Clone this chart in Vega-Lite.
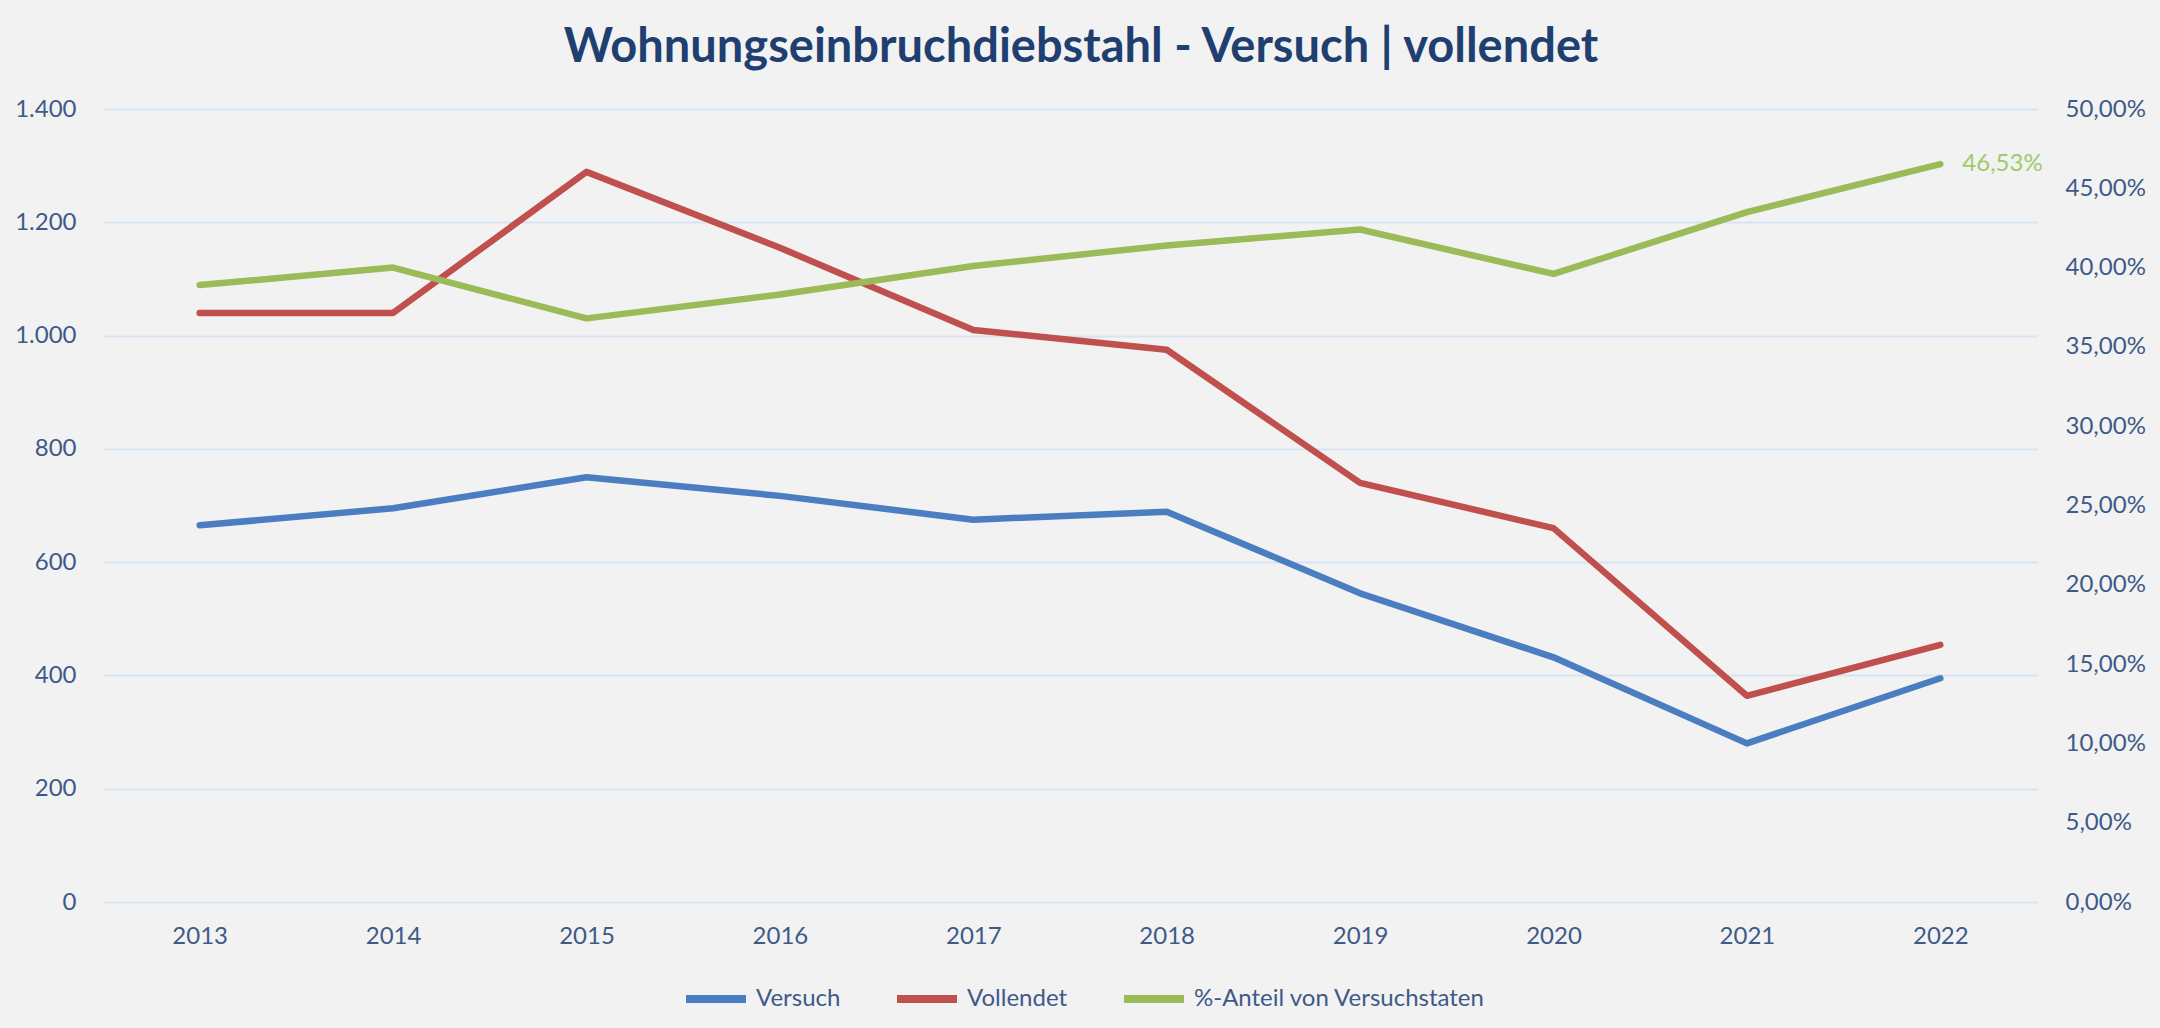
{
  "$schema": "https://vega.github.io/schema/vega-lite/v6.json",
  "autosize": "none",
  "width": 1934,
  "height": 793,
  "padding": {"left": 103, "top": 109, "right": 123, "bottom": 126},
  "background": "#F2F2F2",
  "config": {
    "locale": {"number": {"decimal": ",", "thousands": ".", "grouping": [3], "currency": ["", " €"]}},
    "font": "Lato",
    "view": {"stroke": null},
    "axis": {"labelFont": "Lato", "labelColor": "#3E5A88", "labelFontSize": 24, "domain": false, "ticks": false, "title": null}
  },
  "title": {
    "text": "Wohnungseinbruchdiebstahl - Versuch | vollendet",
    "font": "Lato",
    "fontSize": 47,
    "fontWeight": "bold",
    "color": "#1F3F70",
    "anchor": "middle",
    "offset": 25,
    "dx": 11
  },
  "data": {
    "values": [
      {"year": "2013", "Versuch": 665, "Vollendet": 1040, "pct": 0.389},
      {"year": "2014", "Versuch": 695, "Vollendet": 1040, "pct": 0.400},
      {"year": "2015", "Versuch": 750, "Vollendet": 1289, "pct": 0.368},
      {"year": "2016", "Versuch": 717, "Vollendet": 1155, "pct": 0.383},
      {"year": "2017", "Versuch": 675, "Vollendet": 1010, "pct": 0.401},
      {"year": "2018", "Versuch": 689, "Vollendet": 975, "pct": 0.414},
      {"year": "2019", "Versuch": 545, "Vollendet": 740, "pct": 0.424},
      {"year": "2020", "Versuch": 432, "Vollendet": 660, "pct": 0.396},
      {"year": "2021", "Versuch": 280, "Vollendet": 364, "pct": 0.435},
      {"year": "2022", "Versuch": 395, "Vollendet": 454, "pct": 0.4653}
    ]
  },
  "encoding": {
    "x": {
      "field": "year",
      "type": "ordinal",
      "scale": {"type": "point", "padding": 0.5},
      "axis": {"labelAngle": 0, "labelPadding": 22, "grid": false}
    }
  },
  "layer": [
    {
      "transform": [{"fold": ["Versuch", "Vollendet"], "as": ["serie", "wert"]}],
      "mark": {"type": "line", "strokeWidth": 6.5, "strokeCap": "round", "strokeJoin": "round"},
      "encoding": {
        "y": {
          "field": "wert",
          "type": "quantitative",
          "scale": {"domain": [0, 1400], "nice": false},
          "axis": {
            "orient": "left",
            "values": [0, 200, 400, 600, 800, 1000, 1200, 1400],
            "format": ",d",
            "grid": true,
            "gridColor": "#D5E3F3",
            "gridWidth": 2,
            "labelPadding": 27
          }
        },
        "color": {
          "field": "serie",
          "type": "nominal",
          "scale": {
            "domain": ["Versuch", "Vollendet", "%-Anteil von Versuchstaten"],
            "range": ["#4A7EC0", "#C0504D", "#9BBB59"]
          },
          "legend": {
            "title": null,
            "orient": "none",
            "direction": "horizontal",
            "legendX": 579,
            "legendY": 856,
            "symbolType": "stroke",
            "symbolSize": 3600,
            "symbolStrokeWidth": 8,
            "labelFont": "Lato",
            "labelFontSize": 24,
            "labelColor": "#3E5A88",
            "labelOffset": 6,
            "labelLimit": 600,
            "columnPadding": 40
          }
        }
      }
    },
    {
      "layer": [
        {
          "mark": {"type": "line", "strokeWidth": 6.5, "strokeCap": "round", "strokeJoin": "round"},
          "encoding": {
            "y": {
              "field": "pct",
              "type": "quantitative",
              "scale": {"domain": [0, 0.5], "nice": false},
              "axis": {
                "orient": "right",
                "values": [0, 0.05, 0.1, 0.15, 0.2, 0.25, 0.3, 0.35, 0.4, 0.45, 0.5],
                "format": ".2%",
                "grid": false,
                "labelPadding": 28
              }
            },
            "color": {"datum": "%-Anteil von Versuchstaten"}
          }
        },
        {
          "transform": [{"filter": "datum.year == '2022'"}],
          "mark": {"type": "text", "align": "left", "baseline": "middle", "dx": 22, "dy": 0, "font": "Lato", "fontSize": 24, "color": "#9DCB6B"},
          "encoding": {
            "y": {"field": "pct", "type": "quantitative"},
            "text": {"field": "pct", "type": "quantitative", "format": ".2%"}
          }
        }
      ]
    }
  ],
  "resolve": {"scale": {"y": "independent", "color": "shared"}}
}
